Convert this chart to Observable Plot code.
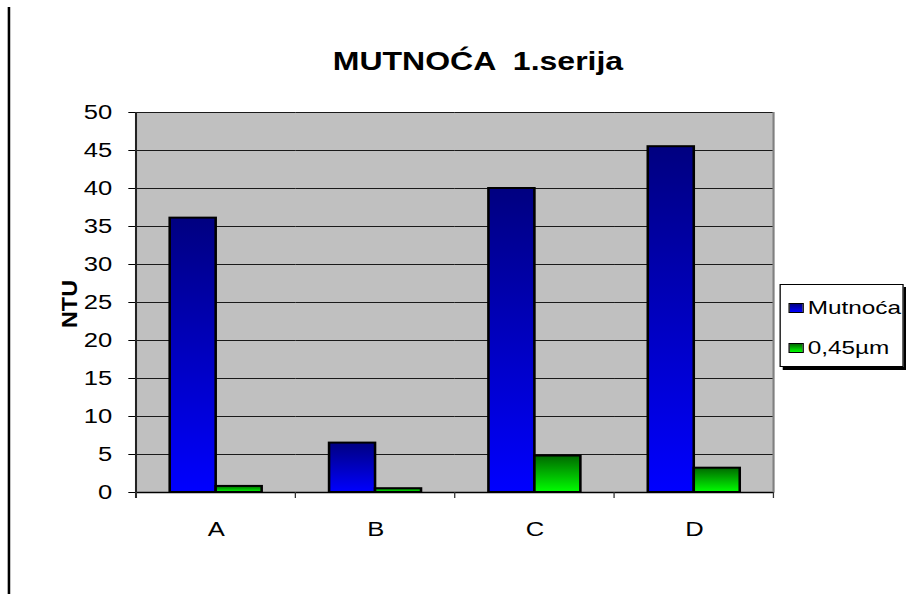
<!DOCTYPE html>
<html><head><meta charset="utf-8">
<script src="https://cdn.jsdelivr.net/npm/d3@7"></script>
<script src="https://cdn.jsdelivr.net/npm/@observablehq/plot@0.6"></script>
<style>
html,body{margin:0;padding:0;background:#fff;overflow:hidden;}
#wrap{position:relative;width:708px;height:594px;transform:scaleX(1.28);transform-origin:0 0;font-family:"Liberation Sans",Arial,sans-serif;color:#000;}
#chart{position:absolute;left:0;top:0;}
#title{position:absolute;left:19.4px;top:48.8px;width:708px;text-align:center;font-weight:bold;font-size:25px;line-height:25px;white-space:pre;}
#leftline{position:absolute;left:6.2px;top:7px;width:1.6px;height:587px;background:#000;}
#legend{position:absolute;left:609.4px;top:284px;width:96.9px;height:83px;box-sizing:border-box;border:1px solid #000;background:#fff;box-shadow:2.5px 3px 0 #000;}
.lsw{position:absolute;width:12px;height:10px;box-sizing:border-box;border:1px solid #000;}
.ltx{position:absolute;font-size:19px;line-height:19px;white-space:nowrap;}
</style>
</head><body>
<div id="wrap">
  <div id="leftline"></div>
  <div id="chart"></div>
  <div id="title"></div>
  <div id="legend"></div>
</div>
<script>
const titleText = "MUTNOĆA  1.serija";
const yLabel = "NTU";
const categories = ["A", "B", "C", "D"];
const seriesNames = ["Mutnoća", "0,45µm"];
const mutnoca = [36.1, 6.5, 40.0, 45.5];
const filtered = [0.8, 0.5, 4.8, 3.2];
const yTicks = [0, 5, 10, 15, 20, 25, 30, 35, 40, 45, 50];
const seriesColors = [["#000080", "#0000FF"], ["#006800", "#00FF00"]];

const rows = categories.flatMap((c, i) => [
  {category: c, series: seriesNames[0], value: mutnoca[i]},
  {category: c, series: seriesNames[1], value: filtered[i]}
]);

document.getElementById("title").textContent = titleText;

const plot = Plot.plot({
  width: 708, height: 594,
  marginLeft: 106.25, marginRight: 103.75, marginTop: 112, marginBottom: 102,
  style: {fontFamily: '"Liberation Sans", Arial, sans-serif', fontSize: "20px", color: "#000", background: "transparent", overflow: "visible"},
  facet: {data: rows, x: "category"},
  fx: {domain: categories, padding: 0, round: false, axis: "bottom", tickSize: 0, tickPadding: 29, label: null},
  x: {domain: seriesNames, paddingInner: 0, paddingOuter: 0.733, round: false, axis: null},
  y: {domain: [0, 50], ticks: yTicks, tickSize: 6, tickPadding: 13, line: false, label: null},
  marks: [
    Plot.frame({fill: "#c0c0c0", stroke: "#c0c0c0", strokeWidth: 1}),
    Plot.ruleY(yTicks, {stroke: "#1a1a1a", strokeWidth: 1}),
    Plot.barY(rows, {filter: d => d.series === seriesNames[0], x: "series", y: "value", fill: "url(#gradBlue)", stroke: "#000", strokeWidth: 2}),
    Plot.barY(rows, {filter: d => d.series === seriesNames[1], x: "series", y: "value", fill: "url(#gradGreen)", stroke: "#000", strokeWidth: 2}),
    Plot.ruleY([0], {stroke: "#000", strokeWidth: 1.5})
  ]
});
document.getElementById("chart").appendChild(plot);

const svgNode = plot.tagName.toLowerCase() === "svg" ? plot : plot.querySelector("svg");
const svg = d3.select(svgNode);
const defs = svg.insert("defs", ":first-child");
function grad(id, top, bottom) {
  const g = defs.append("linearGradient").attr("id", id).attr("x1", 0).attr("y1", 0).attr("x2", 0).attr("y2", 1);
  g.append("stop").attr("offset", "0%").attr("stop-color", top);
  g.append("stop").attr("offset", "100%").attr("stop-color", bottom);
}
grad("gradBlue", seriesColors[0][0], seriesColors[0][1]);
grad("gradGreen", seriesColors[1][0], seriesColors[1][1]);

// axis lines, category boundary ticks and right border, from the library's scales
const fx = plot.scale("fx");
const ys = plot.scale("y");
const y0 = ys.apply(0), yTop = ys.apply(50);
const edges = categories.map(c => fx.apply(c));
edges.push(fx.apply(categories[categories.length - 1]) + fx.bandwidth);
const g = svg.append("g");
g.append("line").attr("x1", edges[edges.length - 1]).attr("x2", edges[edges.length - 1])
  .attr("y1", yTop).attr("y2", y0).attr("stroke", "#808080").attr("stroke-width", 1.5);
g.append("line").attr("x1", edges[0]).attr("x2", edges[0])
  .attr("y1", yTop).attr("y2", y0 + 6).attr("stroke", "#222").attr("stroke-width", 1.6);
edges.forEach(x => {
  g.append("line").attr("x1", x).attr("x2", x).attr("y1", y0).attr("y2", y0 + 6)
    .attr("stroke", "#333").attr("stroke-width", 1);
});
// y-axis title
const midY = (ys.apply(0) + ys.apply(50)) / 2;
svg.append("text")
  .attr("transform", `translate(60.5,${midY + 2}) rotate(-90)`)
  .attr("text-anchor", "middle")
  .attr("font-weight", "bold")
  .attr("font-size", 17)
  .attr("textLength", 48)
  .attr("lengthAdjust", "spacingAndGlyphs")
  .attr("fill", "#000")
  .text(yLabel);

// legend
const legend = document.getElementById("legend");
const legTop = [18, 58];
const legTextTop = [12.9, 52.9];
seriesNames.forEach((s, i) => {
  const sw = document.createElement("div");
  sw.className = "lsw";
  sw.style.left = "6px";
  sw.style.top = legTop[i] + "px";
  sw.style.background = `linear-gradient(${seriesColors[i][0]}, ${seriesColors[i][1]})`;
  legend.appendChild(sw);
  const tx = document.createElement("div");
  tx.className = "ltx";
  tx.style.left = "20.6px";
  tx.style.top = legTextTop[i] + "px";
  tx.textContent = s;
  legend.appendChild(tx);
});
</script>
</body></html>
